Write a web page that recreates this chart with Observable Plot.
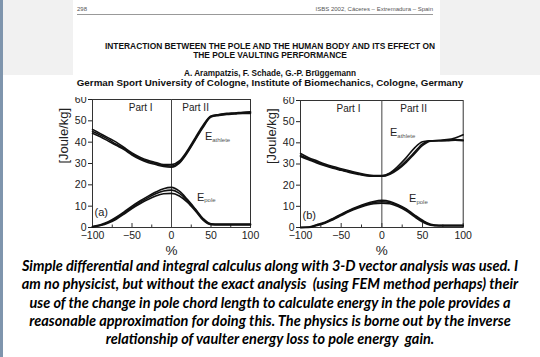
<!DOCTYPE html>
<html><head><meta charset="utf-8">
<script src="https://cdn.jsdelivr.net/npm/d3@7"></script>
<script src="https://cdn.jsdelivr.net/npm/@observablehq/plot@0.6"></script>
<style>
html,body{margin:0;padding:0;background:#fff;}
body{width:540px;height:357px;position:relative;overflow:hidden;font-family:"Liberation Sans",Arial,sans-serif;}
.abs{position:absolute;}
#bgtop{left:3px;top:0;width:537px;height:75px;background:#f1f1f1;}
#page{left:73px;top:0;width:367px;height:75px;background:#fff;}
#leftbar{left:0;top:0;width:3px;height:357px;background:#7f95ad;}
.hdr{position:absolute;white-space:pre;color:#111;font-weight:bold;text-align:center;left:0;width:540px;}
#pnum{left:77px;top:6px;font-size:6px;color:#555;}
#conf{left:250px;width:183px;top:6px;font-size:6px;color:#555;text-align:right;}
#rule{left:77px;top:14px;width:356px;height:1px;background:#999;}
#caption{left:0;top:257px;width:540px;text-align:center;font-family:Lato,"Open Sans",sans-serif;font-weight:bold;font-style:italic;font-size:14.5px;line-height:18.3px;white-space:pre;color:#000;}
</style></head><body>
<div id="bgtop" class="abs"></div>
<div id="page" class="abs"></div>
<div id="leftbar" class="abs"></div>
<div id="pnum" class="abs">298</div>
<div id="conf" class="abs">ISBS 2002, Cáceres – Extremadura – Spain</div>
<div id="rule" class="abs"></div>
<div class="hdr" style="top:41px;font-size:8.4px;">INTERACTION BETWEEN THE POLE AND THE HUMAN BODY AND ITS EFFECT ON</div>
<div class="hdr" style="top:50px;font-size:8.4px;">THE POLE VAULTING PERFORMANCE</div>
<div class="hdr" style="top:69px;font-size:8.2px;">A. Arampatzis, F. Schade, G.-P. Brüggemann</div>
<div class="hdr" style="top:76.5px;font-size:9.8px;">German Sport University of Cologne, Institute of Biomechanics, Cologne, Germany</div>
<div id="chartA" class="abs" style="left:40px;top:97px;"></div>
<div id="chartB" class="abs" style="left:248px;top:97px;"></div>
<div id="caption" class="abs">Simple differential and integral calculus along with 3-D vector analysis was used. I
am no physicist, but without the exact analysis  (using FEM method perhaps) their
use of the change in pole chord length to calculate energy in the pole provides a
reasonable approximation for doing this. The physics is borne out by the inverse
relationship of vaulter energy loss to pole energy  gain.</div>
<script>
// percent of pole-support phase
const pct = [-100,-90,-80,-70,-60,-50,-40,-30,-20,-10,0,10,20,30,40,50,60,70,80,90,100];
const xTicks = [-100,-50,0,50,100];
const xMinor = [-75,-25,25,75];
const yTicks = [0,10,20,30,40,50,60];

// (a) athlete energy, three trials [J/kg]
const athA1 = [46,44,42,40,37.5,35,33,31.5,30.5,29.5,29.5,31.2,36,42,48,52.3,53,53.5,53.7,54,54.2];
const athA2 = [45,43.3,41.3,39,37,34.5,32.5,31,30,29,28.8,30.6,35.4,41.4,47.4,52,52.8,53.2,53.5,53.8,53.9];
const athA3 = [44.2,42.5,40.5,38.5,36.5,34,32,30.5,29.5,28.6,28.3,30.2,35,41,47,51.8,52.5,53,53.2,53.5,53.5];
// (a) pole energy, three trials [J/kg]
const polA1 = [0.5,1.3,2.7,4.8,7.3,10,12.4,14.6,16.6,18.2,18.8,17,13.2,8.8,4.2,1.7,1.6,1.6,1.6,1.6,1.6];
const polA2 = [0.3,1.1,2.4,4.3,6.8,9.4,11.8,13.9,15.8,17.1,17.5,16,12.6,8.4,3.8,1.5,1.4,1.4,1.4,1.4,1.4];
const polA3 = [0.2,0.9,2.1,3.9,6.3,8.9,11.1,13.1,14.8,15.8,16,14.8,11.9,7.9,3.4,1.3,1.2,1.2,1.2,1.2,1.2];
// (b) athlete energy
const athB1 = [35,33,31.5,30,28.8,27.8,26.8,25.8,25,24.5,24.5,25.8,29,33,37.5,40.5,41,41.2,41.5,42.3,43.8];
const athB2 = [34,32.5,31,29.5,28.3,27.3,26.3,25.5,24.7,24.3,24.3,25.5,28,31.5,35.5,39.5,41,41,41.2,41.5,41.3];
const athB3 = [33.5,32,30.5,29.2,28,27,26,25.2,24.5,24.2,24.2,25.2,27.5,30.8,34.8,38.8,40.8,41,41,41.2,41];
// (b) pole energy
const polB1 = [0,0.2,1.3,2.5,4.3,6.3,8.2,9.8,11.2,12.3,12.8,12.3,10.8,8.8,6,3.4,1.5,1,1,1,1];
const polB2 = [0,0.1,1.1,2.3,4,6,7.9,9.5,10.8,11.8,12.2,11.8,10.4,8.4,5.6,3,1.3,0.9,0.9,0.9,0.9];
const polB3 = [0,0,0.9,2,3.7,5.6,7.5,9.1,10.4,11.3,11.5,11.2,9.9,7.9,5.1,2.6,1.1,0.8,0.8,0.8,0.8];

const toRows = (arr, key) => pct.map((x, i) => ({x, y: arr[i], key}));

function chart({series, width, marginLeft, marginRight, marginTop, notes, tag}) {
  const marginBottom = 30, height = 160;
  const frameH = height - marginBottom - marginTop;
  const rows = series.flatMap(([arr, key]) => toRows(arr, key));
  return Plot.plot({
    width, height, marginLeft, marginRight, marginTop, marginBottom,
    style: {background: "transparent", overflow: "hidden", fontFamily: "Liberation Sans, Arial, sans-serif", color: "#222"},
    x: {domain: [-100, 100]},
    y: {domain: [0, 60]},
    marks: [
      Plot.axisX({ticks: xTicks, tickSize: 0, tickPadding: 4.5, fontSize: 10.5, label: null}),
      Plot.axisY({ticks: yTicks, tickSize: 4, tickPadding: 2, fontSize: 10.5, label: null}),
      Plot.tickX(xTicks, {x: d => d, insetTop: frameH - 4, stroke: "#333"}),
      Plot.tickX(xMinor, {x: d => d, insetTop: frameH - 2.5, stroke: "#333"}),
      Plot.frame({stroke: "#333"}),
      Plot.ruleX([0], {stroke: "#444"}),
      Plot.line(rows, {x: "x", y: "y", z: "key", stroke: "#111", strokeWidth: 1.6, curve: "monotone-x"}),
      Plot.text(["%"], {text: d => d, frameAnchor: "bottom", dy: 27, fontSize: 13.5, fill: "#222"}),
      Plot.text(["[Joule/kg]"], {text: d => d, frameAnchor: "left", rotate: -90, dx: -29, fontSize: 13, fill: "#222"}),
      Plot.text(notes.filter(d => d.size === "sub"), {x: "x", y: "y", text: "t", fontSize: 6, textAnchor: "start", fill: "#555"}),
      Plot.text(notes.filter(d => d.size === "E"), {x: "x", y: "y", text: "t", fontSize: 11, textAnchor: "start", fill: "#222"}),
      Plot.text(notes.filter(d => d.size === "part"), {x: "x", y: "y", text: "t", fontSize: 10, fill: "#222"}),
      Plot.text([tag.t], {x: tag.x, y: tag.y, text: d => d, fontSize: 11, textAnchor: "start", fill: "#222"})
    ]
  });
}

// annotation labels (data coordinates)
const notesA = [
  {t: "Part I", x: -39, y: 56.2, size: "part"},
  {t: "Part II", x: 30.5, y: 56.2, size: "part"},
  {t: "E", x: 42.4, y: 42.9, size: "E"},
  {t: "athlete", x: 51.5, y: 41.2, size: "sub"},
  {t: "E", x: 32.3, y: 14.3, size: "E"},
  {t: "pole", x: 41.5, y: 12.7, size: "sub"}
];
const notesB = [
  {t: "Part I", x: -41, y: 56.3, size: "part"},
  {t: "Part II", x: 39, y: 56.3, size: "part"},
  {t: "E", x: 10, y: 44.8, size: "E"},
  {t: "athlete", x: 19, y: 43.1, size: "sub"},
  {t: "E", x: 33.4, y: 13.6, size: "E"},
  {t: "pole", x: 42.5, y: 12, size: "sub"}
];

document.getElementById("chartA").append(chart({
  series: [[athA1,"a1"],[athA2,"a2"],[athA3,"a3"],[polA1,"p1"],[polA2,"p2"],[polA3,"p3"]],
  width: 228, marginLeft: 52, marginRight: 18, marginTop: 2,
  notes: notesA, tag: {t: "(a)", x: -97.5, y: 7.1}
}));
document.getElementById("chartB").append(chart({
  series: [[athB1,"a1"],[athB2,"a2"],[athB3,"a3"],[polB1,"p1"],[polB2,"p2"],[polB3,"p3"]],
  width: 232, marginLeft: 52, marginRight: 17.3, marginTop: 3,
  notes: notesB, tag: {t: "(b)", x: -97.5, y: 5.8}
}));
</script>
</body></html>
